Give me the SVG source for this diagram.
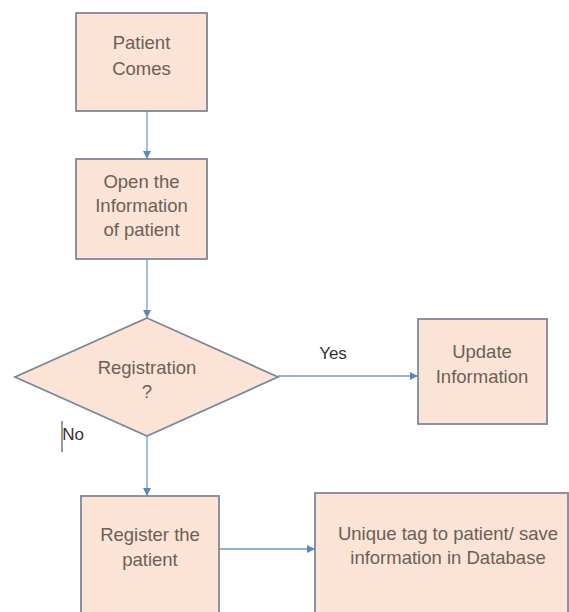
<svg xmlns="http://www.w3.org/2000/svg" width="569" height="612" viewBox="0 0 569 612">
<defs>
<style>
.box{fill:#FBE4D6;stroke:#7d8898;stroke-width:1.8}
.t{font-family:"Liberation Sans",Arial,sans-serif;font-size:18.5px;fill:#6b5f58;text-anchor:middle}
.lbl{font-family:"Liberation Sans",Arial,sans-serif;font-size:17px;fill:#333;text-anchor:middle}
.c{stroke:#6f9ad0;stroke-width:1.3;fill:none;marker-end:url(#ah)}
</style>
<marker id="ah" viewBox="0 0 10 10" refX="10" refY="5" markerWidth="8" markerHeight="8" markerUnits="userSpaceOnUse" orient="auto">
<path d="M0,0 L10,5 L0,10 z" fill="#5b88c4"/>
</marker>
</defs>
<rect width="569" height="612" fill="#ffffff"/>
<g id="connectors">
<line class="c" x1="147" y1="111" x2="147" y2="159"/>
<line class="c" x1="147" y1="259" x2="147" y2="318"/>
<line class="c" x1="278" y1="376" x2="418" y2="376"/>
<line class="c" x1="147" y1="436" x2="147" y2="496"/>
<line class="c" x1="219" y1="549" x2="315" y2="549"/>
<text class="lbl" x="333" y="359">Yes</text>
<text class="lbl" x="73" y="440">No</text>
<line x1="62" y1="421" x2="62" y2="452" stroke="#333" stroke-width="1"/>
</g>
<g id="patient-comes">
<rect class="box" x="76" y="13" width="131" height="98"/>
<text class="t" x="141.5" y="49">Patient</text>
<text class="t" x="141.5" y="75">Comes</text>
</g>
<g id="open-info">
<rect class="box" x="76" y="159" width="131" height="100"/>
<text class="t" x="141.5" y="188">Open the</text>
<text class="t" x="141.5" y="212">Information</text>
<text class="t" x="141.5" y="236">of patient</text>
</g>
<g id="registration">
<polygon class="box" points="147,318 278,377 147,436 15,377"/>
<text class="t" x="147" y="374">Registration</text>
<text class="t" x="147" y="398">?</text>
</g>
<g id="update-info">
<rect class="box" x="418" y="319" width="129" height="105"/>
<text class="t" x="482" y="358">Update</text>
<text class="t" x="482" y="383">Information</text>
</g>
<g id="register-patient">
<rect class="box" x="81" y="496" width="138" height="120"/>
<text class="t" x="150" y="541">Register the</text>
<text class="t" x="150" y="566">patient</text>
</g>
<g id="unique-tag">
<rect class="box" x="315" y="493" width="253" height="123"/>
<text class="t" x="448" y="540">Unique tag to patient/ save</text>
<text class="t" x="448" y="564">information in Database</text>
</g>
</svg>
